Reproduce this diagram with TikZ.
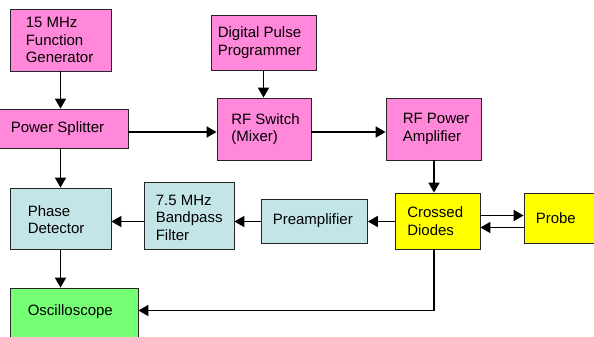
\documentclass[tikz,border=0pt]{standalone}
\usepackage{fontspec}
\setmainfont{Liberation Sans}
\usetikzlibrary{arrows.meta}
\definecolor{pinkfill}{HTML}{FF88DA}
\definecolor{bluefill}{HTML}{C4E5E7}
\definecolor{greenfill}{HTML}{74FF74}
\definecolor{yellowfill}{HTML}{FFFF00}
\begin{document}
\begin{tikzpicture}[x=1pt,y=-1pt,
  font=\fontsize{15}{17.5}\selectfont,
  blk/.style 2 args={draw=black!85, line width=0.8pt, rectangle,
    minimum width=#1, minimum height=#2, inner sep=0pt, anchor=center},
  lbl/.style={anchor=west, align=left, inner sep=0pt},
  pinkblk/.style={fill=pinkfill},
  blueblk/.style={fill=bluefill},
  greenblk/.style={fill=greenfill},
  yellowblk/.style={fill=yellowfill},
  conn/.style={line width=1.7pt, -{Triangle[length=10pt,width=11pt]}}]
\useasboundingbox (0,0) rectangle (594,337);

% signal sources and transmit chain
\node[blk={101pt}{62pt}, pinkblk] (fg) at (60.5,40) {};
\node[lbl] (fg-t) at ([xshift=16pt]fg.west) {15 MHz\\Function\\Generator};
\node[blk={105pt}{55pt}, pinkblk] (dpp) at (263.5,42.5) {};
\node[lbl] (dpp-t) at ([xshift=7pt]dpp.west) {Digital Pulse\\Programmer};
\node[blk={131pt}{39pt}, pinkblk] (ps) at (62.5,128.5) {};
\node[lbl] (ps-t) at ([xshift=14pt]ps.west) {Power Splitter};
\node[blk={94pt}{62pt}, pinkblk] (rfs) at (264,129) {};
\node[lbl] (rfs-t) at ([xshift=14.5pt]rfs.west) {RF Switch\\(Mixer)};
\node[blk={95pt}{62pt}, pinkblk] (rfpa) at (433.5,129) {};
\node[lbl] (rfpa-t) at ([xshift=17pt]rfpa.west) {RF Power\\Amplifier};

% receive chain
\node[blk={101pt}{61pt}, blueblk] (pd) at (60.5,218.5) {};
\node[lbl] (pd-t) at ([xshift=18pt,yshift=-1pt]pd.west) {Phase\\Detector};
\node[blk={90pt}{67pt}, blueblk] (bpf) at (189,215.5) {};
\node[lbl] (bpf-t) at ([xshift=12pt,yshift=-2pt]bpf.west) {7.5 MHz\\Bandpass\\Filter};
\node[blk={106pt}{44pt}, blueblk] (pre) at (314.5,221) {};
\node[lbl] (pre-t) at ([xshift=11.5pt]pre.west) {Preamplifier};
\node[blk={85pt}{56pt}, yellowblk] (cd) at (437.5,221) {};
\node[lbl] (cd-t) at ([xshift=12.5pt]cd.west) {Crossed\\Diodes};
\node[blk={74pt}{50pt}, yellowblk] (probe) at (561,218) {};
\node[lbl] (probe-t) at ([xshift=12pt]probe.west) {Probe};
\node[blk={128pt}{58pt}, greenblk] (osc) at (74,317) {};
\node[lbl] (osc-t) at ([xshift=18pt]osc.west |- 0,311.5) {Oscilloscope};

% connectors
\draw[conn] (fg.south) -- (ps.north -| fg.south);
\draw[conn] (dpp.south) -- (rfs.north -| dpp.south);
\draw[conn] (ps.east |- 0,132) -- (rfs.west |- 0,132);
\draw[conn] (rfs.east |- 0,132) -- (rfpa.west |- 0,132);
\draw[conn] (rfpa.south -| 434,0) -- (cd.north -| 434,0);
\draw[conn] (ps.south -| fg.south) -- (pd.north -| fg.south);
\draw[conn] (cd.west |- 0,221.5) -- (pre.east |- 0,221.5);
\draw[conn] (pre.west |- 0,221.5) -- (bpf.east |- 0,221.5);
\draw[conn] (bpf.west |- 0,221.5) -- (pd.east |- 0,221.5);
\draw[conn] (cd.east |- 0,215.5) -- (probe.west |- 0,215.5);
\draw[conn] (probe.west |- 0,227.5) -- (cd.east |- 0,227.5);
\draw[conn] (pd.south -| fg.south) -- (osc.north -| fg.south);
\coordinate (bend) at (434,310.5);
\draw[conn] (cd.south -| bend) -- (bend) -- (osc.east |- bend);
\end{tikzpicture}
\end{document}
